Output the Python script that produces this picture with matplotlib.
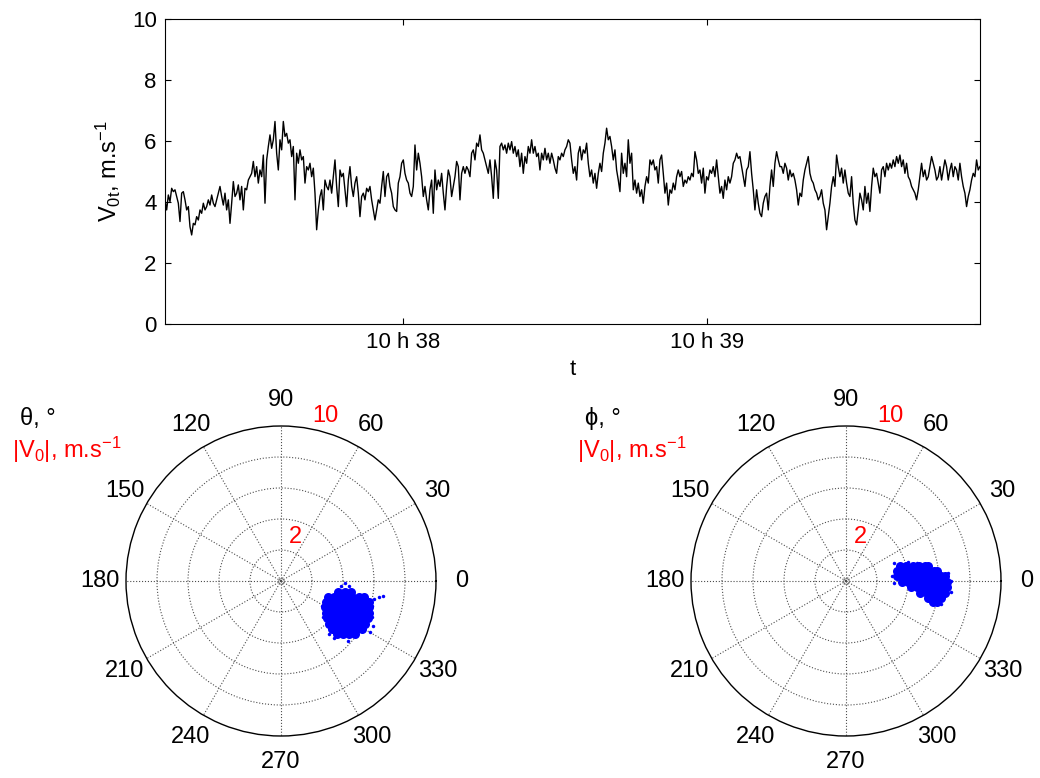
import numpy as np
import matplotlib
matplotlib.use('Agg')
import matplotlib.pyplot as plt

plt.rcParams['font.family'] = ['Liberation Sans', 'DejaVu Sans']
plt.rcParams['mathtext.fontset'] = 'custom'
plt.rcParams['mathtext.rm'] = 'Liberation Sans'
plt.rcParams['mathtext.default'] = 'rm'

# --- top panel: wind speed V0t (m/s), sampled every dt seconds from t0 ---
t0 = 37 * 60 + 13.0      # seconds after 10 h 00
dt = 0.329
v0t = [
    4.07, 3.74, 4.23, 4.01, 4.45, 4.34, 4.40, 4.18, 3.96, 3.36,
    4.29, 4.34, 4.07, 3.74, 3.85, 3.19, 2.92, 3.30, 3.25, 3.52,
    3.41, 3.74, 3.63, 3.96, 3.74, 3.85, 4.07, 3.90, 4.23, 3.96,
    3.85, 4.07, 4.29, 4.51, 4.18, 3.90, 4.29, 3.74, 4.07, 3.30,
    3.96, 4.67, 4.18, 4.29, 4.56, 4.07, 4.51, 3.74, 4.45, 4.40,
    4.72, 4.83, 4.94, 5.33, 4.83, 5.16, 4.62, 5.05, 4.83, 5.54,
    3.96, 5.38, 5.82, 6.20, 5.76, 6.04, 6.64, 5.60, 5.05, 6.04,
    5.71, 6.64, 6.15, 6.25, 5.93, 6.04, 5.49, 5.82, 4.07, 5.60,
    5.27, 5.71, 5.38, 5.49, 4.62, 5.16, 5.05, 5.27, 4.83, 5.11,
    4.29, 3.09, 3.74, 4.18, 4.40, 3.74, 4.72, 4.51, 4.40, 4.72,
    4.29, 4.83, 5.38, 4.51, 3.85, 5.05, 4.83, 4.94, 4.40, 3.85,
    4.72, 5.16, 4.51, 4.18, 4.62, 4.83, 4.29, 3.52, 4.18, 4.29,
    4.07, 4.45, 4.34, 4.51,
    4.07, 3.74, 3.41, 3.74, 4.07, 3.96, 4.51, 5.00, 4.18, 4.83,
    4.94, 4.51, 4.29, 3.85, 3.74, 3.69, 4.62, 4.83, 5.27, 5.38,
    4.94, 4.72, 4.62, 4.29, 4.18, 4.51, 5.87, 5.05, 5.60, 5.27,
    4.83, 4.18, 4.51, 4.07, 3.74, 4.40, 4.72, 3.63, 5.05, 4.40,
    4.72, 4.51, 4.94, 4.29, 3.74, 4.51, 5.05, 4.83, 4.18, 4.51,
    4.83, 5.33, 5.16, 4.07, 4.94, 5.16, 4.94, 5.16, 5.05, 4.83,
    5.60, 5.71, 5.38, 5.93, 5.82, 6.20, 5.71, 5.60, 5.38, 5.16,
    4.94, 5.38, 4.83, 4.12, 5.38, 5.05, 4.12, 5.82, 5.93, 5.71,
    5.87, 5.60, 5.93, 5.71, 5.98, 5.60, 5.82, 5.49, 5.71, 5.16,
    5.60, 4.94, 5.49, 5.27, 5.82, 5.60, 6.04, 5.60, 5.82, 5.49,
    5.60, 5.05, 5.60, 5.38, 5.76, 5.38, 5.60, 5.27, 5.60, 5.38,
    5.11, 4.94, 5.49, 5.38, 5.60, 5.49, 5.71, 5.82, 6.04, 5.93,
    5.38, 4.94, 5.16,
    4.72, 5.60, 5.82, 5.38, 5.71, 5.60, 5.93, 5.27, 4.83, 5.05,
    4.62, 4.94, 4.45, 4.94, 5.27, 5.00, 5.60, 5.93, 6.42, 6.04,
    6.15, 5.82, 5.38, 5.71, 5.05, 4.72, 4.34, 5.60, 4.94, 5.27,
    4.83, 6.04, 5.27, 5.60, 4.40, 4.72, 4.29, 4.62, 4.18, 4.40,
    3.96, 4.51, 4.83, 4.62, 5.38, 5.22, 5.38, 5.05, 5.16, 4.62,
    5.38, 5.54, 4.94, 4.29, 4.62, 3.90, 4.40, 4.29, 4.62, 4.40,
    4.83, 5.05, 4.83, 5.00, 4.51, 4.72, 4.62, 4.83, 4.72, 4.94,
    4.83, 5.65, 5.38, 4.94, 5.05, 4.62, 5.11, 4.29, 4.83, 4.72,
    5.05, 4.94, 5.16, 4.83, 5.38, 4.83, 4.29, 4.51, 4.12, 4.72,
    4.40, 4.83, 4.62, 4.83, 5.27, 5.38, 5.60, 5.43, 5.49, 5.16,
    4.83, 4.51, 5.05, 5.16, 5.65, 4.94, 4.40, 3.74, 4.40, 3.96,
    3.63, 3.52, 3.96, 4.18, 4.29, 3.74, 4.51, 5.05, 4.51, 5.27,
    5.65, 5.38, 5.16,
    5.16, 4.94, 5.27, 5.11, 4.72, 5.05, 4.83, 4.94, 4.72, 4.40,
    3.90, 4.29, 4.18, 4.72, 5.05, 5.27, 5.49, 4.94, 4.72, 4.62,
    4.40, 4.29, 4.07, 4.18, 4.40, 3.96, 3.74, 3.09, 3.52, 3.96,
    4.51, 4.83, 4.51, 5.54, 5.16, 4.83, 5.11, 4.62, 5.05, 4.62,
    4.29, 4.18, 4.83, 3.96, 3.41, 3.25, 3.74, 4.29, 4.07, 3.74,
    4.51, 3.96, 4.29, 3.69, 4.51, 5.11, 4.83, 4.94, 4.62, 4.29,
    5.05, 5.16, 4.83, 5.27, 5.05, 5.27, 5.11, 5.38, 5.16, 5.49,
    5.27, 5.54, 5.16, 5.38, 4.94, 5.27, 4.83, 4.72, 4.51, 4.40,
    4.29, 4.07, 4.40, 4.83, 5.27, 4.83, 5.05, 4.72, 4.83, 5.16,
    5.49, 5.27, 5.05, 4.72, 4.83, 5.16, 4.72, 5.05, 5.38, 5.16,
    4.72, 5.05, 5.27, 4.83, 5.16, 5.05, 4.72, 5.27, 4.83, 4.51,
    4.29, 3.85, 4.18, 4.40, 4.72, 4.94, 4.83, 5.38, 5.05, 5.16,
]
t_ticks = [38 * 60, 39 * 60]
t_labels = ['10 h 38', '10 h 39']

# --- bottom left: horizontal wind vector cloud (m/s, east / north) ---
theta_u = [3.7, 4.1, 4.5,
           3.0, 3.4, 3.8, 4.2, 4.6, 5.0, 5.35,
           2.9, 3.3, 3.7, 4.1, 4.5, 4.9, 5.3, 5.65,
           2.85, 3.25, 3.65, 4.05, 4.45, 4.85, 5.25, 5.65,
           2.9, 3.3, 3.7, 4.1, 4.5, 4.9, 5.3, 5.65,
           2.95, 3.35, 3.75, 4.15, 4.55, 4.95, 5.35, 5.6,
           3.1, 3.5, 3.9, 4.3, 4.7, 5.1, 5.45,
           3.3, 3.7, 4.1, 4.5, 4.9, 5.25,
           3.6, 4.0, 4.4, 4.8]
theta_v = [-0.7, -0.7, -0.7,
           -1.0, -1.0, -1.0, -1.0, -1.0, -1.0, -1.0,
           -1.35, -1.35, -1.35, -1.35, -1.35, -1.35, -1.35, -1.35,
           -1.7, -1.7, -1.7, -1.7, -1.7, -1.7, -1.7, -1.7,
           -2.05, -2.05, -2.05, -2.05, -2.05, -2.05, -2.05, -2.05,
           -2.4, -2.4, -2.4, -2.4, -2.4, -2.4, -2.4, -2.4,
           -2.75, -2.75, -2.75, -2.75, -2.75, -2.75, -2.75,
           -3.1, -3.1, -3.1, -3.1, -3.1, -3.1,
           -3.45, -3.45, -3.45, -3.45]
theta_u_out = [6.6, 6.3, 6.0, 2.65, 5.95, 5.75, 3.1, 4.3, 2.7, 4.15,
               3.85, 4.4, 5.9, 5.85, 3.4]
theta_v_out = [-0.95, -1.05, -1.15, -1.6, -2.9, -3.3, -3.4, -3.85, -2.3, -0.15,
               -0.35, -0.35, -1.6, -2.3, -3.7]

# --- bottom right: vertical-plane vector cloud ---
phi_u = [3.5, 3.9, 4.3, 4.7, 5.1, 5.3,
         3.3, 3.7, 4.1, 4.5, 4.9, 5.3, 5.7, 5.9,
         3.3, 3.7, 4.1, 4.5, 4.9, 5.3, 5.7, 6.1, 6.4,
         3.6, 4.0, 4.4, 4.8, 5.2, 5.6, 6.0, 6.4, 6.5,
         4.2, 4.6, 5.0, 5.4, 5.8, 6.2, 6.5,
         4.8, 5.2, 5.6, 6.0, 6.4,
         5.3, 5.7, 6.1,
         5.6, 5.85]
phi_v = [1.0, 1.0, 1.0, 1.0, 1.0, 1.0,
         0.65, 0.65, 0.65, 0.65, 0.65, 0.65, 0.65, 0.65,
         0.3, 0.3, 0.3, 0.3, 0.3, 0.3, 0.3, 0.3, 0.3,
         -0.05, -0.05, -0.05, -0.05, -0.05, -0.05, -0.05, -0.05, -0.05,
         -0.4, -0.4, -0.4, -0.4, -0.4, -0.4, -0.4,
         -0.75, -0.75, -0.75, -0.75, -0.75,
         -1.1, -1.1, -1.1,
         -1.35, -1.35]
phi_u_out = [3.1, 4.0, 2.95, 6.8, 6.1, 5.6, 6.6, 4.6, 3.1, 6.75]
phi_v_out = [1.15, 1.2, 0.3, -0.7, -1.5, -1.45, 0.5, 1.15, -0.1, 0.0]

angle_ticks = list(range(0, 360, 30))
r_rings = [2, 4, 6, 8]
r_max = 10

W, H = 1040, 778
fig = plt.figure(figsize=(W / 100, H / 100), dpi=100)

# top time series
ax = fig.add_axes([165 / W, 1 - 324 / H, 815 / W, 305 / H])
t = t0 + dt * np.arange(len(v0t))
ax.plot(t, v0t, color='black', linewidth=1.0)
ax.set_xlim(t0, t0 + 160.9)
ax.set_ylim(0, 10)
ax.set_yticks([0, 2, 4, 6, 8, 10])
ax.set_xticks(t_ticks)
ax.set_xticklabels(t_labels)
ax.tick_params(direction='in', top=True, right=True, length=4.5, width=0.8,
               labelsize=16, pad=6)
ax.set_xlabel('t', fontsize=16, labelpad=4)
ax.set_ylabel('V$_{0t}$, m.s$^{-1}$', fontsize=17, labelpad=6)
for s in ax.spines.values():
    s.set_linewidth(0.8)


def polar_panel(cx, u, v, u_out, v_out, sym):
    pax = fig.add_axes([(cx - 155) / W, 1 - 736 / H, 310 / W, 310 / H],
                       projection='polar')
    u = np.array(u); v = np.array(v)
    pax.plot(np.arctan2(v, u), np.hypot(u, v), 'o', color='blue',
             markersize=6.5, markeredgewidth=0)
    uo = np.array(u_out); vo = np.array(v_out)
    pax.plot(np.arctan2(vo, uo), np.hypot(uo, vo), 'o', color='blue',
             markersize=2.5, markeredgewidth=0)
    pax.plot([0], [0], 'o', mfc='none', mec='0.4', markersize=4,
             markeredgewidth=0.6)
    pax.set_rlim(0, r_max)
    pax.set_rgrids(r_rings, labels=[''] * len(r_rings))
    pax.set_thetagrids(angle_ticks, labels=[str(a) for a in angle_ticks])
    pax.tick_params(axis='x', pad=8, labelsize=17)
    pax.grid(True, linestyle=':', color='0.3', linewidth=0.8)
    pax.spines['polar'].set_linewidth(1.0)
    pax.text(np.radians(72), 3.0, '2', color='red', fontsize=17,
             ha='center', va='center')
    pax.text(np.radians(75), 11.0, '10', color='red', fontsize=17,
             ha='center', va='center', clip_on=False)
    fig.text((cx - 261) / W, 1 - 425 / H, sym + ', °', fontsize=17,
             ha='left', va='baseline')
    fig.text((cx - 269) / W, 1 - 458 / H, '|V$_0$|, m.s$^{-1}$', color='red',
             fontsize=17, ha='left', va='baseline')
    return pax


polar_panel(281, theta_u, theta_v, theta_u_out, theta_v_out, 'θ')
polar_panel(846, phi_u, phi_v, phi_u_out, phi_v_out, 'ϕ')

fig.savefig('out.png', dpi=100)
